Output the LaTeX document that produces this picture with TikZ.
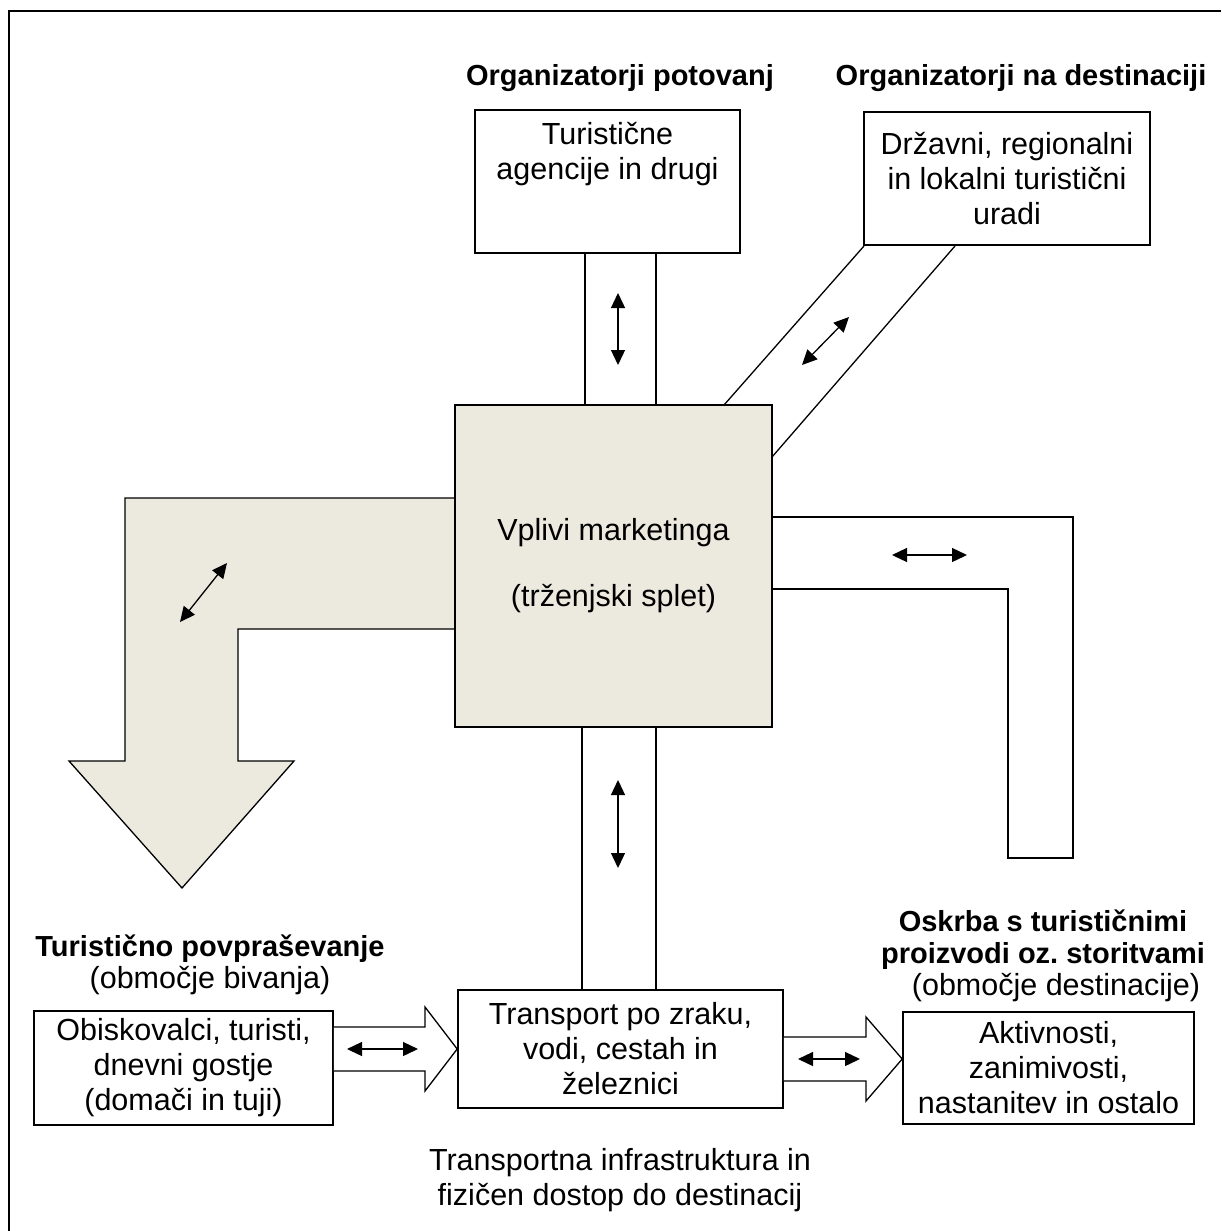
\documentclass[tikz,border=0pt]{standalone}
\usepackage{fontspec}
\setmainfont{Liberation Sans}
\usetikzlibrary{arrows.meta,positioning}
\definecolor{beige}{RGB}{236,234,223}
\frenchspacing
\tikzset{
  box/.style={draw, line width=1.6pt, inner sep=0pt},
  txt/.style={align=center, inner sep=0pt, font=\fontsize{30.5}{35}\selectfont},
  head/.style={align=center, inner sep=0pt, font=\fontsize{29}{32}\selectfont\bfseries},
  band/.style={line width=1.3pt},
  dbl/.style={line width=1.3pt, {Triangle[length=15pt,width=14pt]}-{Triangle[length=15pt,width=14pt]}}
}

\begin{document}
\begin{tikzpicture}[x=1pt,y=-1pt]
\useasboundingbox (0,0) rectangle (1221,1231);
\draw[line width=1.8pt] (9,1231) -- (9,11) -- (1221,11);

% bands between the boxes
\draw[band] (585,253) -- (585,405);
\draw[band] (656,253) -- (656,405);
\draw[band] (864,246) -- (724,405);
\draw[band] (955,246) -- (772,457);
\draw[band] (772,517) -- (1073,517) -- (1073,858) -- (1008,858) -- (1008,589) -- (772,589);
\draw[band] (582,727) -- (582,990);
\draw[band] (656,727) -- (656,990);
\draw[band, fill=beige] (455,498) -- (125,498) -- (125,761) -- (69,761) -- (182,888) -- (294,761)
  -- (238,761) -- (238,629) -- (455,629);

% boxes
\node[box, minimum width=265pt, minimum height=143pt] (agencije) at (607.5,181.5) {};
\node[txt, below=13pt of agencije.north] (agencijetxt) {Turistične\\agencije in drugi};
\node[box, txt, minimum width=286pt, minimum height=133pt] (uradi) at (1007,178.5)
  {Državni, regionalni\\in lokalni turistični\\uradi};
\node[box, txt, fill=beige, minimum width=317pt, minimum height=322pt] (marketing) at (613.5,566)
  {Vplivi marketinga\\[31pt](trženjski splet)};
\node[box, txt, minimum width=299pt, minimum height=114pt] (obiskovalci) at (183.5,1068)
  {Obiskovalci, turisti,\\dnevni gostje\\(domači in tuji)};
\node[box, txt, minimum width=325pt, minimum height=118pt] (transport) at (620.5,1049)
  {Transport po zraku,\\vodi, cestah in\\železnici};
\node[box, txt, minimum width=291pt, minimum height=112pt] (aktivnosti) at (1048.5,1068)
  {Aktivnosti,\\zanimivosti,\\nastanitev in ostalo};

% headings
\node[head] (potovanj) at (620,78) {Organizatorji potovanj};
\node[head] (destinacija) at (1021,78) {Organizatorji na destinaciji};
\node[head] (povprasevanje) at (210,949) {Turistično povpraševanje};
\node[txt] (bivanje) at (210,981) {(območje bivanja)};
\node[head] (oskrba) at (1043,940) {Oskrba s turističnimi\\proizvodi oz. storitvami};
\node[txt] (obmocje) at (1056,988) {(območje destinacije)};
\node[txt] (infra) at (620,1180) {Transportna infrastruktura in\\fizičen dostop do destinacij};

% hollow arrows
\draw[band, fill=white] (obiskovalci.east |- 0,1027) -- (425,1027) -- (425,1007) -- (transport.west |- 0,1049)
  -- (425,1091) -- (425,1071) -- (obiskovalci.east |- 0,1071);
\draw[band, fill=white] (transport.east |- 0,1037) -- (866,1037) -- (866,1017) -- (aktivnosti.west |- 0,1059)
  -- (866,1101) -- (866,1081) -- (transport.east |- 0,1081);

% double arrows
\coordinate (a1) at (618,293); \coordinate (b1) at (618,365);
\coordinate (a2) at (802,365); \coordinate (b2) at (849,317);
\coordinate (a3) at (892,555); \coordinate (b3) at (967,555);
\coordinate (a4) at (180,622); \coordinate (b4) at (227,563);
\coordinate (a5) at (618,780); \coordinate (b5) at (618,868);
\coordinate (a6) at (347,1049); \coordinate (b6) at (418,1049);
\coordinate (a7) at (798,1059); \coordinate (b7) at (860,1059);
\foreach \i in {1,...,7}
  \draw[dbl] (a\i) -- (b\i);
\end{tikzpicture}
\end{document}
